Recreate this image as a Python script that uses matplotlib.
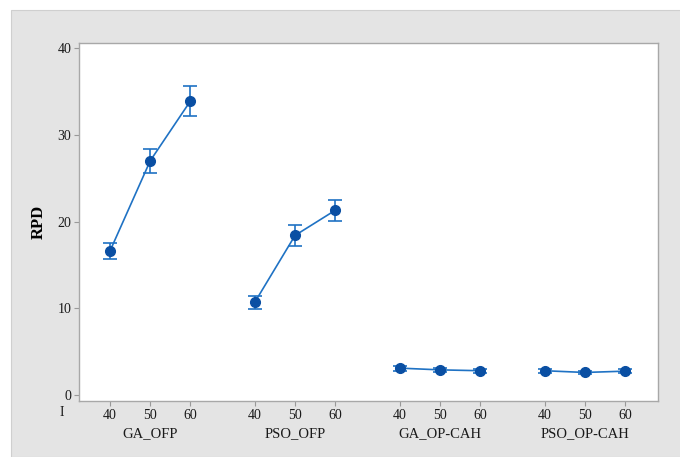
import matplotlib.pyplot as plt
from matplotlib.patches import Rectangle
from matplotlib.transforms import blended_transform_factory

# RPD mean and interval half-width per method and population size
groups = ['GA_OFP', 'PSO_OFP', 'GA_OP-CAH', 'PSO_OP-CAH']
levels = ['40', '50', '60']
means = [
    [16.6, 27.0, 33.9],
    [10.7, 18.4, 21.3],
    [3.1, 2.9, 2.8],
    [2.8, 2.6, 2.75],
]
errs = [
    [0.9, 1.4, 1.75],
    [0.75, 1.2, 1.2],
    [0.3, 0.25, 0.25],
    [0.25, 0.2, 0.25],
]

line_col = '#1f72c4'
dot_col = '#0a4fa3'
gap = 3.6

fig = plt.figure(figsize=(6.8, 4.57), dpi=100, facecolor='white')
# grey panel behind the plot area
fig.add_artist(Rectangle((11 / 680, 0), 1, 1 - 10 / 457, transform=fig.transFigure,
                         facecolor='#e4e4e4', edgecolor='#cfcfcf', lw=0.8, zorder=-10))

ax = fig.add_axes([79 / 680, 1 - 401 / 457, 579 / 680, 358 / 457])
ax.set_facecolor('white')

xticks = []
for g, name in enumerate(groups):
    xs = [g * gap + i for i in range(len(levels))]
    xticks += xs
    ax.plot(xs, means[g], color=line_col, lw=1.2, zorder=2)
    ax.errorbar(xs, means[g], yerr=errs[g], fmt='none', ecolor=line_col,
                elinewidth=1.2, capsize=5, capthick=1.2, zorder=3)
    ax.plot(xs, means[g], 'o', color=dot_col, ms=7, zorder=4)

ax.set_xlim(-0.77, (len(groups) - 1) * gap + 2 + 0.82)
ax.set_ylim(-0.69, 40.58)
ax.set_xticks(xticks)
ax.set_xticklabels(levels * len(groups))
ax.set_yticks([0, 10, 20, 30, 40])

for lab in ax.get_xticklabels() + ax.get_yticklabels():
    lab.set_fontfamily('Liberation Serif')
    lab.set_fontsize(10)
    lab.set_color('#1a1a1a')
ax.tick_params(length=3.5, width=0.8, color='#999999', pad=2)

for s in ax.spines.values():
    s.set_color('#a8a8a8')
    s.set_linewidth(1.0)

trans = blended_transform_factory(ax.transData, ax.transAxes)
for g, name in enumerate(groups):
    ax.text(g * gap + 1, -0.09, name, transform=trans, ha='center', va='center',
            fontfamily='Liberation Serif', fontsize=10.5, color='#1a1a1a')

ax.set_ylabel('RPD', fontfamily='Liberation Serif', fontweight='bold', fontsize=12, labelpad=8)
fig.text(62 / 680, 1 - 413 / 457, 'I', ha='center', va='center',
         fontfamily='Liberation Serif', fontsize=10, color='#1a1a1a')

fig.savefig('out.png', dpi=100, facecolor=fig.get_facecolor())
